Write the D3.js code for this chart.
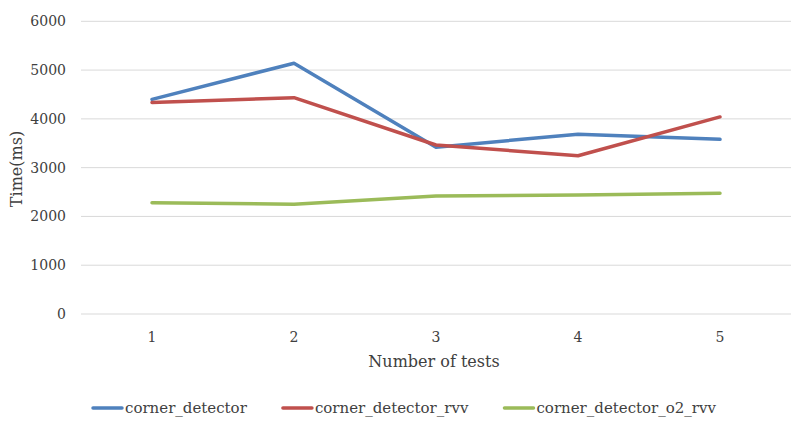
<!DOCTYPE html>
<html><head><meta charset="utf-8">
<script src="https://cdn.jsdelivr.net/npm/d3@7/dist/d3.min.js"></script>
<style>body{margin:0;background:#fff}svg{display:block}</style>
</head><body>
<svg id="c" width="800" height="426"></svg>
<script>
const categories = ["1","2","3","4","5"];
const seriesNames = ["corner_detector","corner_detector_rvv","corner_detector_o2_rvv"];
const cornerDetector = [4400, 5140, 3420, 3685, 3580];
const cornerDetectorRvv = [4335, 4435, 3465, 3245, 4040];
const cornerDetectorO2Rvv = [2280, 2250, 2420, 2440, 2475];
const yTicks = [0,1000,2000,3000,4000,5000,6000];
const colors = ["#4F81BD","#C0504D","#9BBB59"];
const seriesValues = [cornerDetector, cornerDetectorRvv, cornerDetectorO2Rvv];

const font = "'DejaVu Serif', serif";
const svg = d3.select("#c");
const mLeft = 81, mRight = 791, mTop = 21.3, mBottom = 314;
const x = d3.scaleBand().domain(categories).range([mLeft, mRight]);
const y = d3.scaleLinear().domain([0, 6000]).range([mBottom, mTop]);

const grid = svg.append("g");
grid.selectAll("line").data(yTicks).join("line")
  .attr("x1", mLeft).attr("x2", mRight)
  .attr("y1", d => y(d)).attr("y2", d => y(d))
  .attr("stroke", "#d9d9d9").attr("stroke-width", 1);

const yAxis = svg.append("g").attr("transform", `translate(${mLeft},0)`)
  .call(d3.axisLeft(y).tickValues(yTicks).tickSize(0).tickPadding(15).tickFormat(d3.format("d")));
yAxis.select(".domain").remove();
yAxis.selectAll("text").attr("font-family", font).attr("font-size", 14).attr("fill", "#404040");

const xAxis = svg.append("g").attr("transform", `translate(0,${mBottom})`)
  .call(d3.axisBottom(x).tickSize(0).tickPadding(18));
xAxis.select(".domain").remove();
xAxis.selectAll("text").attr("font-family", font).attr("font-size", 14).attr("fill", "#404040");

svg.append("text").attr("x", (mLeft+mRight)/2 - 2).attr("y", 367).attr("text-anchor","middle")
  .attr("font-family", font).attr("font-size", 16).attr("fill","#404040").text("Number of tests");
svg.append("text").attr("transform", "translate(22,169) rotate(-90)").attr("text-anchor","middle")
  .attr("font-family", font).attr("font-size", 16).attr("fill","#404040").text("Time(ms)");

const line = d3.line().x((d,i) => x(categories[i]) + x.bandwidth()/2).y(d => y(d));
seriesValues.forEach((vals, k) => {
  svg.append("path").datum(vals).attr("d", line).attr("fill","none")
    .attr("stroke", colors[k]).attr("stroke-width", 3.5).attr("stroke-linejoin","round").attr("stroke-linecap","round");
});

// legend: laid out between x=93 and x=716
const lgStart = 93, lgEnd = 716, lineLen = 29, txtGap = 3;
const items = seriesNames.map((name, k) => {
  const g = svg.append("g");
  g.append("line").attr("x1",0).attr("x2",lineLen).attr("y1",0).attr("y2",0)
    .attr("stroke", colors[k]).attr("stroke-width", 3.5).attr("stroke-linecap","round");
  const t = g.append("text").attr("x", lineLen + txtGap).attr("y", 5).attr("font-family", font).attr("font-size", 15)
    .attr("fill","#404040").text(name);
  return {g, w: lineLen + txtGap + t.node().getComputedTextLength()};
});
const totalW = d3.sum(items, d => d.w);
const gap = (lgEnd - lgStart - totalW) / (items.length - 1);
let cx = lgStart;
items.forEach(it => { it.g.attr("transform", `translate(${cx},408)`); cx += it.w + gap; });
</script>
</body></html>
